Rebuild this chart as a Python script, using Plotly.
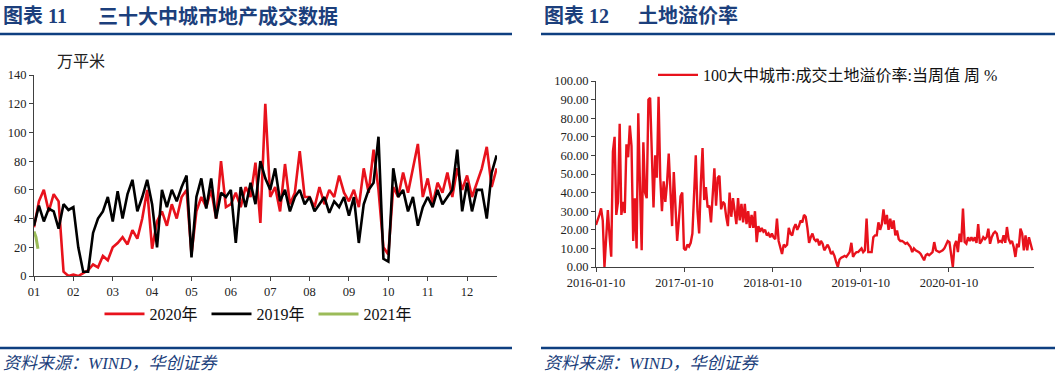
import numpy as np
import pandas as pd
import plotly.graph_objects as go

# ---------------- data: left chart (万平米), sampled every 1/8 month ----------------
month_labels = ["01", "02", "03", "04", "05", "06", "07", "08", "09", "10", "11", "12"]

sales_2020 = [34, 52, 60, 45, 57, 52, 3, 0, 1, 0, 2, 4, 8, 6, 14, 11,
              20, 23, 27, 22, 32, 26, 40, 60, 19, 38, 45, 35, 50, 40, 55, 60,
              15, 45, 55, 48, 60, 40, 80, 48, 50, 58, 48, 62, 55, 79, 37, 120,
              55, 62, 45, 78, 50, 58, 87, 55, 55, 48, 62, 50, 60, 55, 70, 58,
              52, 60, 48, 75, 58, 88, 60, 20, 15, 62, 55, 72, 58, 75, 92, 55,
              68, 50, 65, 58, 72, 55, 75, 60, 70, 55, 65, 75, 90, 62, 75]

sales_2019 = [35, 49, 38, 47, 45, 33, 50, 46, 48, 20, 3, 3, 30, 40, 45, 55,
              38, 59, 40, 57, 67, 45, 55, 67, 50, 20, 60, 48, 60, 52, 62, 70,
              13, 55, 68, 47, 68, 40, 58, 55, 60, 23, 62, 48, 65, 50, 80, 68,
              60, 75, 52, 60, 45, 55, 60, 50, 55, 45, 50, 55, 44, 52, 48, 55,
              42, 55, 23, 50, 60, 65, 97, 12, 10, 75, 55, 60, 45, 55, 35, 48,
              55, 48, 60, 50, 55, 60, 88, 45, 65, 45, 60, 60, 40, 72, 84]

sales_2021 = [31, 27, 19]

# ---------------- data: right chart (土地溢价率 %, weekly from 2016-01-10) ----------------
premium_rate = [
    22.6, 25, 28, 31.5, 25, 0, 14, 30.6, 17, 5.5,
    62, 70, 28, 35, 77, 28, 35, 29, 66, 59,
    76, 65, 14, 37, 10, 82.6, 44, 9, 67, 40,
    37, 90, 91, 60, 32, 60, 48, 91.5, 48, 30,
    46, 35, 45, 61, 40, 22, 51, 30, 14, 25,
    38, 40, 10,
    9, 12, 11, 13, 18, 38, 60, 30, 18, 45, 64, 36, 43, 32, 33, 24, 38, 53, 33, 48,
    49, 31, 35, 34, 27, 22, 40, 27, 37, 28, 23, 37, 25, 34, 24, 34, 23, 30, 21, 28,
    21, 30, 13.4, 22, 19, 21, 19, 20, 17, 18, 16, 18,
    16, 15, 26, 14, 10, 7, 12, 11, 12, 21, 18, 17, 21, 23, 20, 22, 25, 24, 28, 27,
    21, 13, 16, 18, 15, 14, 15, 11.6, 14, 12.5, 9, 10.7, 12, 10, 7, 8, 6, 2.7, 0, 4,
    5, 5.4, 6, 5.4, 7, 8, 13, 5.4, 7, 8, 8, 9, 10,
    8, 9, 26, 8, 8, 8, 16, 17, 17, 24, 20, 23, 31, 23, 28, 20, 26, 20.6, 25, 17,
    19.7, 15, 14, 14, 13.4, 12.5, 13, 11.6, 10.7, 8, 10, 9, 8.5, 8, 7, 5.4, 3.6, 6.3, 7, 6.3,
    7, 8, 13.4, 9, 8.5, 8, 8.5, 9, 10, 11.6, 14,
    13.4, 5.4, 0, 11.6, 14, 8, 18, 13.4, 31.4, 13.4, 12.5, 16, 14, 16, 14, 16, 13, 23, 12.5, 14,
    16, 15, 16, 20.6, 12.5, 16, 18, 19, 18, 13.4, 14, 13.4, 17, 13, 21.5, 15, 13, 14, 10.7, 5.4,
    12.5, 10.7, 20.6, 18, 9, 17, 9, 16, 12.5, 9]
date_ticks = ["2016-01-10", "2017-01-10", "2018-01-10", "2019-01-10", "2020-01-10"]

# ---------------- styling ----------------
W, H = 1055, 381
SERIF = "Times New Roman, Liberation Serif, Noto Sans CJK SC"
TITLE_BLUE = "#1c3f7c"
RED = "#e8121c"
GREEN = "#9bbb59"
AXIS = "#404040"

def px(x):
    return x / W

def py(y):
    return 1 - y / H

fig = go.Figure()

fig.add_trace(go.Scatter(x=np.arange(len(sales_2020)) / 8.0, y=sales_2020, mode="lines",
                         name="2020年", line=dict(color=RED, width=2.6),
                         xaxis="x", yaxis="y"))
fig.add_trace(go.Scatter(x=np.arange(len(sales_2019)) / 8.0, y=sales_2019, mode="lines",
                         name="2019年", line=dict(color="#000000", width=2.6),
                         xaxis="x", yaxis="y"))
fig.add_trace(go.Scatter(x=np.arange(len(sales_2021)) / 20.0, y=sales_2021, mode="lines",
                         name="2021年", line=dict(color=GREEN, width=3),
                         xaxis="x", yaxis="y"))

dates = pd.date_range("2016-01-10", periods=len(premium_rate), freq="7D")
fig.add_trace(go.Scatter(x=dates, y=premium_rate, mode="lines",
                         name="100大中城市:成交土地溢价率:当周值 周 %",
                         line=dict(color=RED, width=2.4), xaxis="x2", yaxis="y2",
                         legend="legend2"))

tickfont = dict(family=SERIF, size=12.5, color="#222222")
axis_common = dict(showline=True, linecolor=AXIS, linewidth=1, ticks="outside",
                   ticklen=4, tickcolor=AXIS, showgrid=False, zeroline=False,
                   tickfont=tickfont, automargin=False)

fig.update_layout(
    template="none",
    width=W, height=H,
    margin=dict(l=0, r=0, t=0, b=0, pad=0, autoexpand=False),
    paper_bgcolor="white", plot_bgcolor="white",
    xaxis=dict(domain=[px(34), px(497)], range=[0, 11.76],
               tickvals=list(range(12)), ticktext=month_labels, anchor="y",
               **axis_common),
    yaxis=dict(domain=[py(276), py(75)], range=[0, 140], dtick=20, anchor="x",
               **axis_common),
    xaxis2=dict(domain=[px(596), px(1034)],
                range=["2016-01-10", "2020-12-27"],
                tickvals=date_ticks, ticktext=date_ticks, anchor="y2",
                **axis_common),
    yaxis2=dict(domain=[py(267), py(81)], range=[0, 100], dtick=10,
                tickformat=".2f", anchor="x2", **axis_common),
    showlegend=True,
    legend=dict(orientation="h", x=px(260), xanchor="center", y=py(314),
                yanchor="middle", font=dict(family=SERIF, size=16, color="#111111"),
                bgcolor="rgba(0,0,0,0)", entrywidth=52, entrywidthmode="pixels",
                itemwidth=40),
    legend2=dict(orientation="h", x=px(653), xanchor="left", y=py(75),
                 yanchor="middle", font=dict(family=SERIF, size=16, color="#111111"),
                 bgcolor="rgba(0,0,0,0)", itemwidth=40),
)

# header / footer rules
shapes = []
for x0, x1 in [(0, 512), (541, 1055)]:
    for yy in (34, 348):
        shapes.append(dict(type="line", xref="paper", yref="paper",
                           x0=px(x0), x1=px(x1), y0=py(yy), y1=py(yy),
                           line=dict(color="#0e3f80", width=2.5)))
fig.update_layout(shapes=shapes)

TITLE_FONT = dict(family=SERIF, size=20, color=TITLE_BLUE, weight="bold")
ann = [
    dict(text="图表 11", x=px(1), y=py(16)),
    dict(text="三十大中城市地产成交数据", x=px(96), y=py(16)),
    dict(text="图表 12", x=px(542), y=py(16)),
    dict(text="土地溢价率", x=px(636), y=py(16)),
]
for a in ann:
    fig.add_annotation(xref="paper", yref="paper", xanchor="left", yanchor="middle",
                       showarrow=False, font=TITLE_FONT, **a)

SRC_FONT = dict(family=SERIF, size=17, color=TITLE_BLUE, style="italic")
for xx in (1, 542):
    fig.add_annotation(text="资料来源：WIND，华创证券", x=px(xx), y=py(363),
                       xref="paper", yref="paper", xanchor="left", yanchor="middle",
                       showarrow=False, font=SRC_FONT)

fig.add_annotation(text="万平米", x=px(55), y=py(61), xref="paper", yref="paper",
                   xanchor="left", yanchor="middle", showarrow=False,
                   font=dict(family=SERIF, size=16, color="#222222"))

fig.write_html("out.html", config={"displayModeBar": False},
               post_script="document.body.style.margin='0';")
